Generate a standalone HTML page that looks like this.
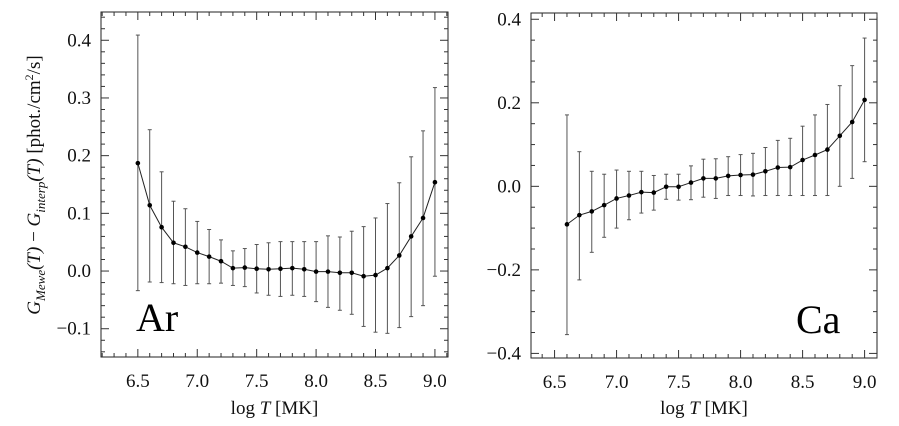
<!DOCTYPE html>
<html><head><meta charset="utf-8"><style>
body{margin:0;background:#fff}
svg{display:block;font-family:"Liberation Serif","DejaVu Serif",serif}
svg text{font-family:"Liberation Serif","DejaVu Serif",serif}
</style></head><body>
<svg id="chart" width="899" height="426" viewBox="0 0 899 426" font-family="Liberation Serif, DejaVu Serif, serif"></svg>
<script>
const arX=[6.5,6.6,6.7,6.8,6.9,7.0,7.1,7.2,7.3,7.4,7.5,7.6,7.7,7.8,7.9,8.0,8.1,8.2,8.3,8.4,8.5,8.6,8.7,8.8,8.9,9.0];
const arY=[0.187,0.114,0.076,0.049,0.042,0.032,0.025,0.017,0.005,0.006,0.004,0.003,0.004,0.005,0.003,-0.001,-0.001,-0.003,-0.003,-0.009,-0.007,0.005,0.027,0.060,0.092,0.154];
const arHi=[0.409,0.245,0.172,0.121,0.108,0.086,0.072,0.054,0.035,0.039,0.046,0.049,0.051,0.051,0.051,0.051,0.061,0.059,0.069,0.077,0.092,0.117,0.153,0.198,0.243,0.318];
const arLo=[-0.034,-0.019,-0.02,-0.022,-0.025,-0.022,-0.022,-0.021,-0.025,-0.027,-0.038,-0.042,-0.044,-0.042,-0.044,-0.053,-0.063,-0.068,-0.075,-0.096,-0.106,-0.108,-0.098,-0.079,-0.060,-0.009];
const caX=[6.6,6.7,6.8,6.9,7.0,7.1,7.2,7.3,7.4,7.5,7.6,7.7,7.8,7.9,8.0,8.1,8.2,8.3,8.4,8.5,8.6,8.7,8.8,8.9,9.0];
const caY=[-0.091,-0.069,-0.060,-0.045,-0.029,-0.022,-0.014,-0.015,-0.001,-0.001,0.009,0.019,0.019,0.025,0.027,0.028,0.036,0.045,0.046,0.063,0.075,0.088,0.121,0.154,0.207];
const caHi=[0.171,0.083,0.036,0.029,0.039,0.036,0.036,0.026,0.029,0.029,0.049,0.065,0.066,0.071,0.076,0.079,0.093,0.110,0.115,0.144,0.171,0.196,0.241,0.289,0.355];
const caLo=[-0.355,-0.224,-0.158,-0.122,-0.100,-0.080,-0.064,-0.057,-0.031,-0.033,-0.032,-0.026,-0.029,-0.022,-0.022,-0.023,-0.022,-0.022,-0.022,-0.022,-0.022,-0.022,0.0,0.019,0.059];
const xTicks=["6.5","7.0","7.5","8.0","8.5","9.0"];
const arYTicks=["-0.1","0.0","0.1","0.2","0.3","0.4"];
const caYTicks=["-0.4","-0.2","0.0","0.2","0.4"];

const NS="http://www.w3.org/2000/svg";
const svg=document.getElementById('chart');
function mk(tag,at,parent){const e=document.createElementNS(NS,tag);for(const k in at)e.setAttribute(k,at[k]);(parent||svg).appendChild(e);return e;}

function panel(p){
  const g=mk('g',{});
  
  
  const sx=v=>p.l+(v-p.x0)/(p.x1-p.x0)*(p.r-p.l);
  const sy=v=>p.b-(v-p.y0)/(p.y1-p.y0)*(p.b-p.t);
  const fr=mk('rect',{x:p.l,y:p.t,width:p.r-p.l,height:p.b-p.t,fill:'none',stroke:'#222','stroke-width':1},g);
  
  
  for(let i=0;i<=30;i++){const v=6.2+i*0.1; if(v<p.x0-1e-6||v>p.x1+1e-6)continue;
    const x=sx(v);const major=Math.abs(v*2-Math.round(v*2))<1e-6;const L=major?8:4;
    mk('line',{x1:x,x2:x,y1:p.b,y2:p.b-L,stroke:'#333'},g);
    mk('line',{x1:x,x2:x,y1:p.t,y2:p.t+L,stroke:'#333'},g);}
  xTicks.forEach(s=>{const t=mk('text',{x:sx(+s),y:p.b+30,'text-anchor':'middle','font-size':19,fill:'#111'},g);t.textContent=s;
    });
  const n=Math.round((p.y1-p.y0)/p.minor);
  for(let i=-2;i<=n+2;i++){const v=Math.round(p.y0/p.minor)*p.minor+i*p.minor; if(v<p.y0-1e-9||v>p.y1+1e-9)continue;
    const y=sy(v);const major=Math.abs(v/p.major-Math.round(v/p.major))<1e-6;const L=major?8:4;
    mk('line',{x1:p.l,x2:p.l+L,y1:y,y2:y,stroke:'#333'},g);
    mk('line',{x1:p.r,x2:p.r-L,y1:y,y2:y,stroke:'#333'},g);}
  p.yt.forEach(s=>{const t=mk('text',{x:p.l-10,y:sy(+s)+6,'text-anchor':'end','font-size':19,fill:'#111'},g);t.textContent=s.replace('-','\u2212');
    });
  p.X.forEach((xv,i)=>{const x=sx(xv);const eb=mk('g',{stroke:'#555','stroke-width':1},g);
    
    mk('line',{x1:x,x2:x,y1:sy(p.Hi[i]),y2:sy(p.Lo[i])},eb);
    mk('line',{x1:x-2,x2:x+2,y1:sy(p.Hi[i]),y2:sy(p.Hi[i])},eb);
    mk('line',{x1:x-2,x2:x+2,y1:sy(p.Lo[i]),y2:sy(p.Lo[i])},eb);});
  const ln=mk('polyline',{points:p.X.map((xv,i)=>sx(xv)+','+sy(p.Y[i])).join(' '),fill:'none',stroke:'#222','stroke-width':1},g);
  
  p.X.forEach((xv,i)=>{const c=mk('circle',{cx:sx(xv),cy:sy(p.Y[i]),r:2.3,fill:'#000'},g);
    });
  const xl=mk('text',{x:(p.l+p.r)/2,y:414,'text-anchor':'middle','font-size':19,fill:'#111'},g);
  xl.innerHTML='log <tspan font-style="italic">T</tspan> [MK]';
  
  const lb=mk('text',{x:p.lx,y:p.ly,'font-size':40,fill:'#000'},g);lb.textContent=p.label;
  
}
panel({name:'ar-panel',l:101,r:448,t:12,b:357,x0:6.19,x1:9.11,y0:-0.149,y1:0.449,minor:0.02,major:0.1,
  X:arX,Y:arY,Hi:arHi,Lo:arLo,yt:arYTicks,label:'Ar',lx:136,ly:331});
panel({name:'ca-panel',l:531,r:877,t:13,b:358,x0:6.31,x1:9.1,y0:-0.411,y1:0.415,minor:0.05,major:0.2,
  X:caX,Y:caY,Hi:caHi,Lo:caLo,yt:caYTicks,label:'Ca',lx:796,ly:333});
const yt=mk('text',{transform:'translate(40,185) rotate(-90)','text-anchor':'middle','font-size':19,fill:'#111'});
yt.innerHTML='<tspan font-style="italic">G</tspan><tspan font-style="italic" font-size="13" dy="5">Mewe</tspan><tspan dy="-5" font-style="italic">(T)</tspan> \u2212 <tspan font-style="italic">G</tspan><tspan font-style="italic" font-size="13" dy="5">interp</tspan><tspan dy="-5" font-style="italic">(T)</tspan>  [phot./cm<tspan font-size="12" dy="-7">2</tspan><tspan dy="7">/s]</tspan>';


</script>
</body></html>
